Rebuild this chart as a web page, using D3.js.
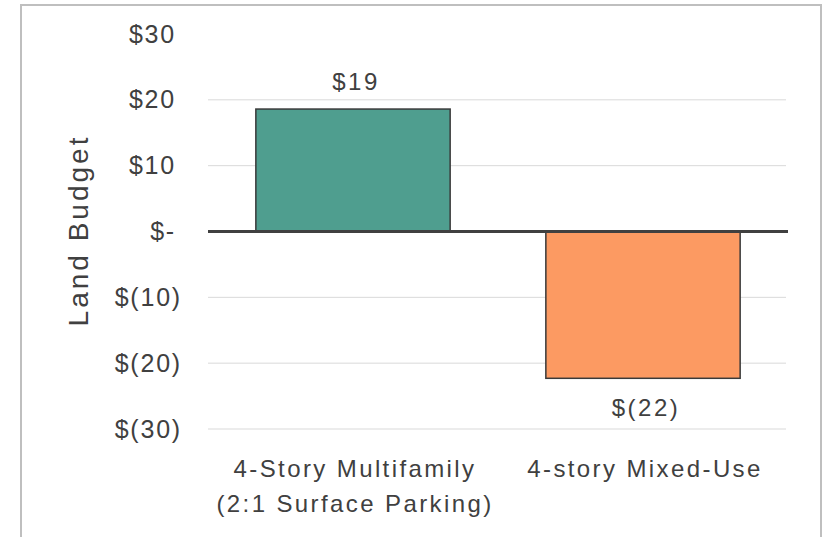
<!DOCTYPE html>
<html>
<head>
<meta charset="utf-8">
<script src="https://cdn.jsdelivr.net/npm/d3@7"></script>
<style>
  body { margin: 0; background: #fff; }
  svg text { font-family: "Liberation Sans", Arial, sans-serif; fill: #404040; }
</style>
</head>
<body>
<div id="chart"></div>
<script>
// chart data
var categories = ["4-Story Multifamily\n(2:1 Surface Parking)", "4-story Mixed-Use"];
var values = [18.6, -22.3];
var barColors = ["#4f9e8f", "#fc9a62"];
var yTicks = [30, 20, 10, 0, -10, -20, -30];
var yLabel = "Land Budget";

var W = 828, H = 537;
var margin = {top: 34, right: 40, bottom: 108, left: 208};

var svg = d3.select("#chart")
  .append("svg")
    .attr("width", W)
    .attr("height", H);

// outer frame
svg.append("rect")
  .attr("x", 21).attr("y", 5)
  .attr("width", 800).attr("height", 560)
  .attr("fill", "none")
  .attr("stroke", "#bfbfbf")
  .attr("stroke-width", 2);

function money(d) {
  d = Math.round(d);
  if (d === 0) return "$-";
  if (d < 0) return "$(" + Math.abs(d) + ")";
  return "$" + d;
}

var x = d3.scaleBand()
  .domain(categories)
  .range([margin.left, W - margin.right])
  .paddingInner(0.33)
  .paddingOuter(0.165);

var y = d3.scaleLinear()
  .domain([-30, 30])
  .range([H - margin.bottom, margin.top]);

// gridlines (no line at the top tick)
svg.append("g")
  .selectAll("line")
  .data(yTicks.filter(function(d) { return d !== 0 && d !== 30; }))
  .enter().append("line")
    .attr("x1", margin.left)
    .attr("x2", W - margin.right - 2)
    .attr("y1", function(d) { return y(d); })
    .attr("y2", function(d) { return y(d); })
    .attr("stroke", "#d9d9d9")
    .attr("stroke-width", 1);

// y axis labels
var yAxis = svg.append("g")
  .attr("transform", "translate(" + (margin.left - 34) + ",0)")
  .call(d3.axisLeft(y).tickValues(yTicks).tickFormat(money).tickSize(0).tickPadding(0));
yAxis.select(".domain").remove();
yAxis.selectAll("text")
  .attr("font-size", 25)
  .style("letter-spacing", "1.8px")
  .attr("fill", "#404040")
  .attr("font-family", "Liberation Sans, Arial, sans-serif")
  .attr("dx", function(d) { return d < 0 ? 8 : 2; });

// bars
svg.append("g")
  .selectAll("rect")
  .data(values)
  .enter().append("rect")
    .attr("x", function(d, i) { return x(categories[i]); })
    .attr("width", x.bandwidth())
    .attr("y", function(d) { return y(Math.max(0, d)); })
    .attr("height", function(d) { return Math.abs(y(d) - y(0)); })
    .attr("fill", function(d, i) { return barColors[i]; })
    .attr("stroke", "#3a3a3a")
    .attr("stroke-width", 1.5);

// zero line
svg.append("line")
  .attr("x1", margin.left)
  .attr("x2", W - margin.right)
  .attr("y1", y(0))
  .attr("y2", y(0))
  .attr("stroke", "#404040")
  .attr("stroke-width", 3);

// value labels
svg.append("g")
  .selectAll("text")
  .data(values)
  .enter().append("text")
    .attr("x", function(d, i) { return x(categories[i]) + x.bandwidth() / 2 + 3; })
    .attr("y", function(d) { return d >= 0 ? y(d) - 19 : y(d) + 38; })
    .attr("text-anchor", "middle")
    .attr("font-size", 24)
    .style("letter-spacing", "2.5px")
    .text(money);

// category labels
var catG = svg.append("g")
  .selectAll("text")
  .data(categories)
  .enter().append("text")
    .attr("text-anchor", "middle")
    .attr("font-size", 24)
    .style("letter-spacing", "2.4px")
    .attr("transform", function(d) { return "translate(" + (x(d) + x.bandwidth() / 2 + 2) + "," + (H - margin.bottom + 48) + ")"; });
catG.selectAll("tspan")
  .data(function(d) { return d.split("\n"); })
  .enter().append("tspan")
    .attr("x", 0)
    .attr("dy", function(d, i) { return i === 0 ? 0 : 35; })
    .text(function(d) { return d; });

// y axis title
svg.append("text")
  .attr("transform", "translate(88," + (y(0) - 1) + ") rotate(-90)")
  .attr("text-anchor", "middle")
  .attr("font-size", 28)
  .style("letter-spacing", "3px")
  .text(yLabel);
</script>
</body>
</html>
